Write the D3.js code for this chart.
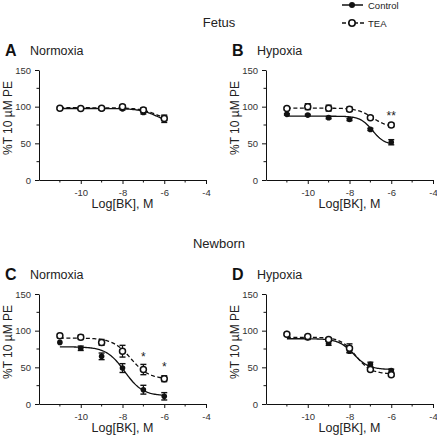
<!DOCTYPE html>
<html><head><meta charset="utf-8">
<script src="https://cdn.jsdelivr.net/npm/d3@7"></script>
<style>body{margin:0;background:#fff}svg{display:block}text{font-family:"Liberation Sans",Arial,sans-serif}</style>
</head><body><svg id="c" width="437" height="440"></svg>
<script>
// ---- data ----
const logDoses = [-11, -10, -9, -8, -7, -6];
const xTicks = [-10, -8, -6, -4];
const yTicks = [0, 50, 100, 150];
const panelIds = ["A", "B", "C", "D"];
const panelTitles = ["Normoxia", "Hypoxia", "Normoxia", "Hypoxia"];
const groupTitles = ["Fetus", "Newborn"];
const seriesNames = ["Control", "TEA"];

const controlA = [98, 97.5, 97, 97, 92, 83.5];
const controlAErr = [1, 1, 1.5, 1.5, 2, 5];
const teaA = [98, 97.5, 98, 100, 95.5, 84];
const teaAErr = [1, 1, 2, 2, 3, 3];

const controlB = [89.5, 88.5, 85, 82.5, 69, 51.5];
const controlBErr = [1, 1, 1.5, 1.5, 1.5, 3.5];
const teaB = [97.5, 100, 98, 96.5, 85, 75];
const teaBErr = [1.5, 4, 4, 3, 2, 2.5];

const controlC = [84, 76, 65, 49, 19.5, 10.5];
const controlCErr = [0, 3, 4.5, 6, 6, 5];
const teaC = [93, 91, 84, 72, 47, 34.5];
const teaCErr = [3, 3, 4, 8, 7, 4];

const controlD = [96, 90, 83, 72, 54, 45.5];
const controlDErr = [1, 2, 3, 2, 3, 2];
const teaD = [95, 92, 88, 76, 47, 40];
const teaDErr = [1, 1.5, 2, 6, 2, 2];

// 4-parameter logistic fit parameters: [top, bottom, logEC50, hill]
const fitControlA = [97.5, 75, -6.3, 1];
const fitTeaA = [98.5, 78, -6.3, 1];
const fitControlB = [87, 48, -6.9, 1.5];
const fitTeaB = [98, 72, -6.9, 1.2];
const fitControlC = [78, 11, -7.9, 1];
const fitTeaC = [90, 34, -7.6, 1];
const fitControlD = [89, 47, -7.8, 1.2];
const fitTeaD = [91, 41, -7.7, 1.2];

const stars = [[], [{x: -6, y: 88, t: "**"}], [{x: -7, y: 66, t: "*"}, {x: -6, y: 52, t: "*"}], []];

// ---- drawing ----
const svg = d3.select("#c");
const panels = [
  {x: 39, y: 70, ctl: controlA, ce: controlAErr, tea: teaA, te: teaAErr, fc: fitControlA, ft: fitTeaA},
  {x: 266, y: 70, ctl: controlB, ce: controlBErr, tea: teaB, te: teaBErr, fc: fitControlB, ft: fitTeaB},
  {x: 39, y: 294, ctl: controlC, ce: controlCErr, tea: teaC, te: teaCErr, fc: fitControlC, ft: fitTeaC},
  {x: 266, y: 294, ctl: controlD, ce: controlDErr, tea: teaD, te: teaDErr, fc: fitControlD, ft: fitTeaD}
];
const W = 167, H = 110;
const logistic = (p, x) => p[1] + (p[0] - p[1]) / (1 + Math.pow(10, p[3] * (x - p[2])));

// group titles
svg.append("text").attr("x", 219).attr("y", 27).attr("text-anchor", "middle").attr("font-size", 13).attr("fill", "#222").text(groupTitles[0]);
svg.append("text").attr("x", 219).attr("y", 248).attr("text-anchor", "middle").attr("font-size", 13).attr("fill", "#222").text(groupTitles[1]);

// legend
const lg = svg.append("g");
lg.append("line").attr("x1", 342).attr("x2", 363).attr("y1", 5).attr("y2", 5).attr("stroke", "#111").attr("stroke-width", 1.5);
lg.append("circle").attr("cx", 352).attr("cy", 5).attr("r", 3).attr("fill", "#111");
lg.append("text").attr("x", 368).attr("y", 8.5).attr("font-size", 9.5).attr("fill", "#222").text(seriesNames[0]);
lg.append("line").attr("x1", 342).attr("x2", 364).attr("y1", 23).attr("y2", 23).attr("stroke", "#111").attr("stroke-width", 1.5).attr("stroke-dasharray", "4,2");
lg.append("circle").attr("cx", 352).attr("cy", 23).attr("r", 3.2).attr("fill", "#fff").attr("stroke", "#111").attr("stroke-width", 1.6);
lg.append("text").attr("x", 368).attr("y", 26.5).attr("font-size", 9.5).attr("fill", "#222").text(seriesNames[1]);

panels.forEach((p, i) => {
  const g = svg.append("g").attr("transform", `translate(${p.x},${p.y})`);
  const x = d3.scaleLinear().domain([-12, -4]).range([0, W]);
  const y = d3.scaleLinear().domain([0, 150]).range([H, 0]);

  // panel letter + title
  svg.append("text").attr("x", p.x - 34).attr("y", p.y - 14).attr("font-size", 16).attr("font-weight", "bold").attr("fill", "#111").text(panelIds[i]);
  svg.append("text").attr("x", p.x - 9).attr("y", p.y - 15).attr("font-size", 12.5).attr("fill", "#222").text(panelTitles[i]);

  // axes
  const xMinor = d3.range(-11, -4, 2);
  const yMinor = [25, 75, 125];
  const ax = g.append("g").attr("transform", `translate(0,${H})`);
  ax.call(d3.axisBottom(x).tickValues(xTicks).tickSize(4).tickPadding(5).tickSizeOuter(0).tickFormat(d => d < 0 ? "-" + Math.abs(d) : d));
  xMinor.forEach(v => ax.append("line").attr("x1", x(v)).attr("x2", x(v)).attr("y1", 0).attr("y2", 2.5).attr("stroke", "#111"));
  const ay = g.append("g");
  ay.call(d3.axisLeft(y).tickValues(yTicks).tickSize(4).tickPadding(4).tickSizeOuter(0));
  yMinor.forEach(v => ay.append("line").attr("x1", 0).attr("x2", -2.5).attr("y1", y(v)).attr("y2", y(v)).attr("stroke", "#111"));
  [ax, ay].forEach(a => {
    a.select(".domain").attr("stroke", "#111").attr("stroke-width", 1);
    a.selectAll(".tick line").attr("stroke", "#111");
    a.selectAll(".tick text").attr("font-size", 9.5).attr("fill", "#333").attr("font-family", "Liberation Sans, Arial, sans-serif");
  });

  // axis labels
  g.append("text").attr("x", W / 2).attr("y", H + 28).attr("text-anchor", "middle").attr("font-size", 12.5).attr("fill", "#222").text("Log[BK], M");
  g.append("text").attr("transform", `translate(-27,${H / 2 - 7}) rotate(-90)`).attr("text-anchor", "middle").attr("font-size", 12).attr("fill", "#222").text("%T 10 µM PE");

  // fit curves
  const xs = d3.range(-11, -5.999, 0.05);
  const line = d3.line().x(d => x(d[0])).y(d => y(d[1]));
  g.append("path").attr("d", line(xs.map(v => [v, logistic(p.fc, v)]))).attr("fill", "none").attr("stroke", "#111").attr("stroke-width", 1.3);
  g.append("path").attr("d", line(xs.map(v => [v, logistic(p.ft, v)]))).attr("fill", "none").attr("stroke", "#111").attr("stroke-width", 1.3).attr("stroke-dasharray", "4,2.5");

  // error bars + points
  const drawSeries = (vals, errs, open) => {
    logDoses.forEach((d, k) => {
      const cx = x(d), cy = y(vals[k]), e = errs[k];
      if (e > 0) {
        g.append("line").attr("x1", cx).attr("x2", cx).attr("y1", y(vals[k] + e)).attr("y2", y(vals[k] - e)).attr("stroke", "#111").attr("stroke-width", 1.2);
        [vals[k] + e, vals[k] - e].forEach(v => g.append("line").attr("x1", cx - 3).attr("x2", cx + 3).attr("y1", y(v)).attr("y2", y(v)).attr("stroke", "#111").attr("stroke-width", 1.4));
      }
      if (open) g.append("circle").attr("cx", cx).attr("cy", cy).attr("r", 3).attr("fill", "#fff").attr("stroke", "#111").attr("stroke-width", 1.5);
      else g.append("circle").attr("cx", cx).attr("cy", cy).attr("r", 2.8).attr("fill", "#111");
    });
  };
  drawSeries(p.ctl, p.ce, false);
  drawSeries(p.tea, p.te, true);

  stars[i].forEach(s => g.append("text").attr("x", x(s.x)).attr("y", y(s.y) + 5).attr("text-anchor", "middle").attr("font-size", 12).attr("fill", "#222").text(s.t));
});
</script></body></html>
